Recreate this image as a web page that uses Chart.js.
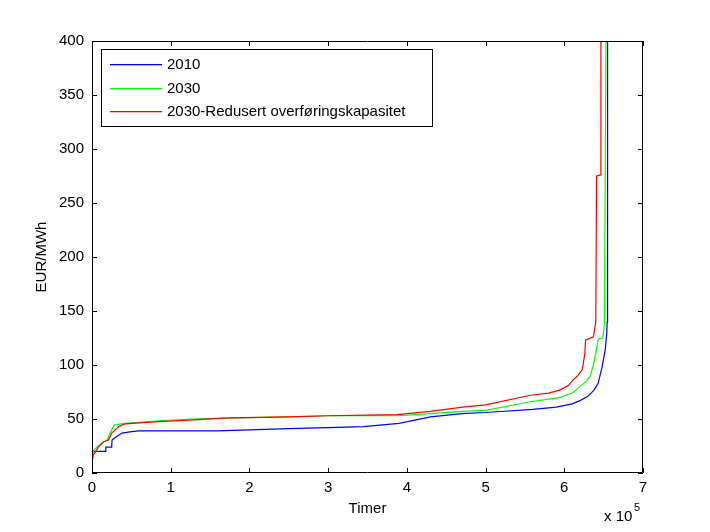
<!DOCTYPE html>
<html lang="no">
<head>
    <meta charset="UTF-8">
    <title>Varighetskurver pris</title>
    <script src="https://cdn.jsdelivr.net/npm/chart.js"></script>
    <style>
        body { margin: 0; background: #fff; }
    </style>
</head>
<body>
    <canvas id="priceChart" width="710" height="532"></canvas>

    <script>
        // timer (x) og pris EUR/MWh (y), lest av figuren
        let hours2010 = [0, 1000, 8000, 17000, 17500, 25000, 25500, 30000, 38000, 48000, 59000, 100000, 159000,
            200000, 250000, 300000, 345000, 390000, 430000, 470000, 500000, 560000, 590000, 610000, 620000, 630000,
            638000, 643000, 648000, 652000, 654000, 654500, 655000];
        let price2010 = [19, 20, 20, 20, 24, 24, 30.5, 33, 37, 38, 39, 39, 39,
            40, 41, 42, 43, 46, 52, 55, 56, 59, 61, 64, 67, 71,
            77, 83, 98, 114, 130, 140, 400];

        let hours2030 = [0, 2000, 8000, 13000, 19000, 23000, 28000, 42000, 60000, 85000, 127000, 186000,
            250000, 300000, 350000, 390000, 430000, 470000, 500000, 557000, 595000, 610000, 620000,
            628000, 633000, 637000, 641000, 643000, 649000, 651000, 652000, 653000];
        let price2030 = [14, 21, 25, 28, 30.5, 37, 44.5, 46, 47, 48.4, 50, 51,
            52, 53, 53, 53, 55, 57, 58, 66, 70, 74, 80,
            85, 90, 100, 115, 124, 125, 138, 275, 400];

        let hoursRed = [0, 1500, 8000, 15000, 21000, 25000, 34000, 42000, 60000, 85000, 123000, 174000,
            250000, 300000, 350000, 388000, 430000, 471000, 500000, 557000, 580000, 595000, 605000, 611000,
            617000, 623000, 626000, 627000, 637000, 640000, 641000, 646000, 646500];
        let priceRed = [10, 16, 24, 29, 30.5, 37, 43, 45.5, 46.5, 47.5, 49, 51,
            52, 53, 53.5, 54, 57, 61, 63, 72, 74, 77, 81, 86,
            90, 96, 110, 123, 126, 140, 275, 276, 400];

        let seriesLabels = ['2010', '2030', '2030-Redusert overføringskapasitet'];
        let seriesColors = ['#0000ff', '#00ff00', '#ff0000'];
        let xTicks = [0, 1, 2, 3, 4, 5, 6, 7];

        let fontFamily = '"Liberation Sans", Arial, sans-serif';

        function toPoints(xs, ys) {
            return xs.map((x, i) => ({ x: x, y: ys[i] }));
        }

        // ramme, innoverpekende ticks, legend og eksponent
        let matlabAxes = {
            id: 'matlabAxes',
            afterDraw(chart) {
                let ctx = chart.ctx;
                let area = chart.chartArea;
                let xs = chart.scales.x;
                let ys = chart.scales.y;
                let len = 5;

                ctx.save();
                ctx.strokeStyle = '#000';
                ctx.lineWidth = 1;
                ctx.beginPath();
                ctx.rect(area.left + 0.5, area.top + 0.5, area.right - area.left - 1, area.bottom - area.top - 1);

                xs.ticks.forEach(t => {
                    let px = Math.round(xs.getPixelForValue(t.value)) + 0.5;
                    ctx.moveTo(px, area.bottom);
                    ctx.lineTo(px, area.bottom - len);
                    ctx.moveTo(px, area.top);
                    ctx.lineTo(px, area.top + len);
                });
                ys.ticks.forEach(t => {
                    let py = Math.round(ys.getPixelForValue(t.value)) + 0.5;
                    ctx.moveTo(area.left, py);
                    ctx.lineTo(area.left + len, py);
                    ctx.moveTo(area.right, py);
                    ctx.lineTo(area.right - len, py);
                });
                ctx.stroke();

                // legend
                let lx = area.left + 9, ly = area.top + 8, lw = 331, lh = 77;
                ctx.fillStyle = '#fff';
                ctx.fillRect(lx, ly, lw, lh);
                ctx.strokeStyle = '#000';
                ctx.strokeRect(lx + 0.5, ly + 0.5, lw, lh);
                ctx.font = '15px ' + fontFamily;
                ctx.textBaseline = 'middle';
                seriesLabels.forEach((label, i) => {
                    let rowY = Math.round(ly + 15 + i * 23.5);
                    ctx.fillStyle = seriesColors[i];
                    ctx.fillRect(lx + 9, rowY, 52, 1.3);
                    ctx.fillStyle = '#000';
                    ctx.fillText(label, lx + 66, rowY + 0.5);
                });

                // x 10^5
                ctx.fillStyle = '#000';
                ctx.textBaseline = 'alphabetic';
                ctx.font = '15px ' + fontFamily;
                ctx.fillText('x 10', 604, 521);
                ctx.font = '11px ' + fontFamily;
                ctx.fillText('5', 634, 511);
                ctx.restore();
            }
        };

        let ctx = document.getElementById('priceChart').getContext('2d');

        let chart = new Chart(ctx, {
            type: 'scatter',
            data: {
                datasets: [
                    {
                        label: seriesLabels[0],
                        data: toPoints(hours2010, price2010),
                        borderColor: seriesColors[0],
                        backgroundColor: seriesColors[0],
                        showLine: true,
                        borderWidth: 1.2,
                        pointRadius: 0,
                        order: 2
                    },
                    {
                        label: seriesLabels[1],
                        data: toPoints(hours2030, price2030),
                        borderColor: seriesColors[1],
                        backgroundColor: seriesColors[1],
                        showLine: true,
                        borderWidth: 1.2,
                        pointRadius: 0,
                        order: 1
                    },
                    {
                        label: seriesLabels[2],
                        data: toPoints(hoursRed, priceRed),
                        borderColor: seriesColors[2],
                        backgroundColor: seriesColors[2],
                        showLine: true,
                        borderWidth: 1.2,
                        pointRadius: 0,
                        order: 0
                    }
                ]
            },
            options: {
                responsive: false,
                animation: false,
                layout: { padding: { left: 0, right: 67, top: 41, bottom: 0 } },
                plugins: {
                    legend: { display: false },
                    tooltip: { enabled: false }
                },
                scales: {
                    x: {
                        type: 'linear',
                        min: 0,
                        max: 700000,
                        afterBuildTicks: scale => {
                            scale.ticks = xTicks.map(v => ({ value: v * 100000 }));
                        },
                        ticks: {
                            callback: v => String(v / 100000),
                            color: '#000',
                            font: { family: fontFamily, size: 15 },
                            padding: 6,
                            maxRotation: 0
                        },
                        grid: { display: false, drawTicks: false },
                        border: { display: false },
                        title: {
                            display: true,
                            text: 'Timer',
                            color: '#000',
                            font: { family: fontFamily, size: 15 },
                            padding: { top: 0, bottom: 14 }
                        },
                        afterFit: scale => { scale.height = 59; }
                    },
                    y: {
                        min: 0,
                        max: 400,
                        ticks: {
                            stepSize: 50,
                            color: '#000',
                            font: { family: fontFamily, size: 15 },
                            padding: 8
                        },
                        grid: { display: false, drawTicks: false },
                        border: { display: false },
                        title: {
                            display: true,
                            text: 'EUR/MWh',
                            color: '#000',
                            font: { family: fontFamily, size: 15 },
                            padding: { top: 33, bottom: 0 }
                        },
                        afterFit: scale => { scale.width = 92; }
                    }
                }
            },
            plugins: [matlabAxes]
        });
    </script>
</body>
</html>
